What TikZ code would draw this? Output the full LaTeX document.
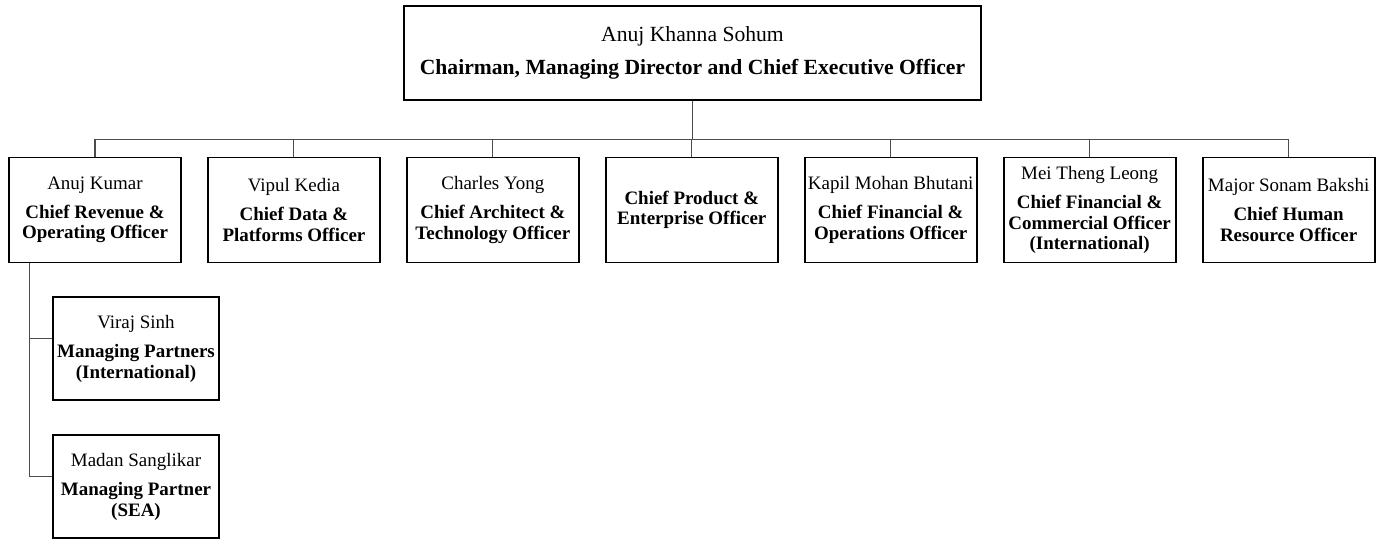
\documentclass[tikz,border=0pt]{standalone}
\usepackage{fontspec}
\setmainfont{Liberation Serif}
\usetikzlibrary{positioning, calc}

\begin{document}
\begin{tikzpicture}[node distance=0.5cm,
        head/.style={draw, line width=1.1pt, minimum width=11.54cm, minimum height=1.88cm, align=center, font=\fontsize{12.3}{14}\selectfont},
        role/.style={draw, line width=1.1pt, minimum width=3.44cm, minimum height=2.1cm, align=center, inner sep=1pt, font=\fontsize{10.8}{11.5}\selectfont},
        sub/.style={role, minimum width=3.32cm, minimum height=2.06cm},
        link/.style={draw=black!70, line width=0.6pt}]
        \useasboundingbox (0,0) rectangle (27.68,-10.8);
        \node[head] (ceo) at (13.85,-1.06) {Anuj Khanna Sohum\\[5pt] \textbf{Chairman, Managing Director and Chief Executive Officer}};
        \node[role] (cro) at (1.9,-4.2) {Anuj Kumar\\[5pt] \textbf{Chief Revenue \&}\\ \textbf{Operating Officer}};
        \node[role, right=of cro] (cdo) {Vipul Kedia\\[5pt] \textbf{Chief Data \&}\\ \textbf{Platforms Officer}};
        \node[role, right=of cdo] (cto) {Charles Yong\\[5pt] \textbf{Chief Architect \&}\\ \textbf{Technology Officer}};
        \node[role, right=of cto] (cpo) {\textbf{Chief Product \&}\\ \textbf{Enterprise Officer}};
        \node[role, right=of cpo] (cfo) {Kapil Mohan Bhutani\\[5pt] \textbf{Chief Financial \&}\\ \textbf{Operations Officer}};
        \node[role, right=of cfo] (ccoi) {Mei Theng Leong\\[5pt] \textbf{Chief Financial \&}\\ \textbf{Commercial Officer}\\ \textbf{(International)}};
        \node[role, right=of ccoi] (chro) {Major Sonam Bakshi\\[5pt] \textbf{Chief Human}\\ \textbf{Resource Officer}};
        \node[sub, below=0.66cm of cro.south west, anchor=north west, xshift=0.88cm] (mpi) {Viraj Sinh\\[5pt] \textbf{Managing Partners}\\ \textbf{(International)}};
        \node[sub, below=0.66cm of mpi] (mpsea) {Madan Sanglikar\\[5pt] \textbf{Managing Partner}\\ \textbf{(SEA)}};
        % reporting lines
        \foreach \c in {cro,cdo,cto,cpo,cfo,ccoi,chro}
            \draw[link] (ceo.south) -- ++(0,-0.78) -| (\c.north);
        \coordinate (spine) at ([xshift=0.42cm]cro.south west);
        \draw[link] (spine) |- ($(mpi.north west)!0.4!(mpi.south west)$);
        \draw[link] (spine) |- ($(mpsea.north west)!0.4!(mpsea.south west)$);
    \end{tikzpicture}
\end{document}
